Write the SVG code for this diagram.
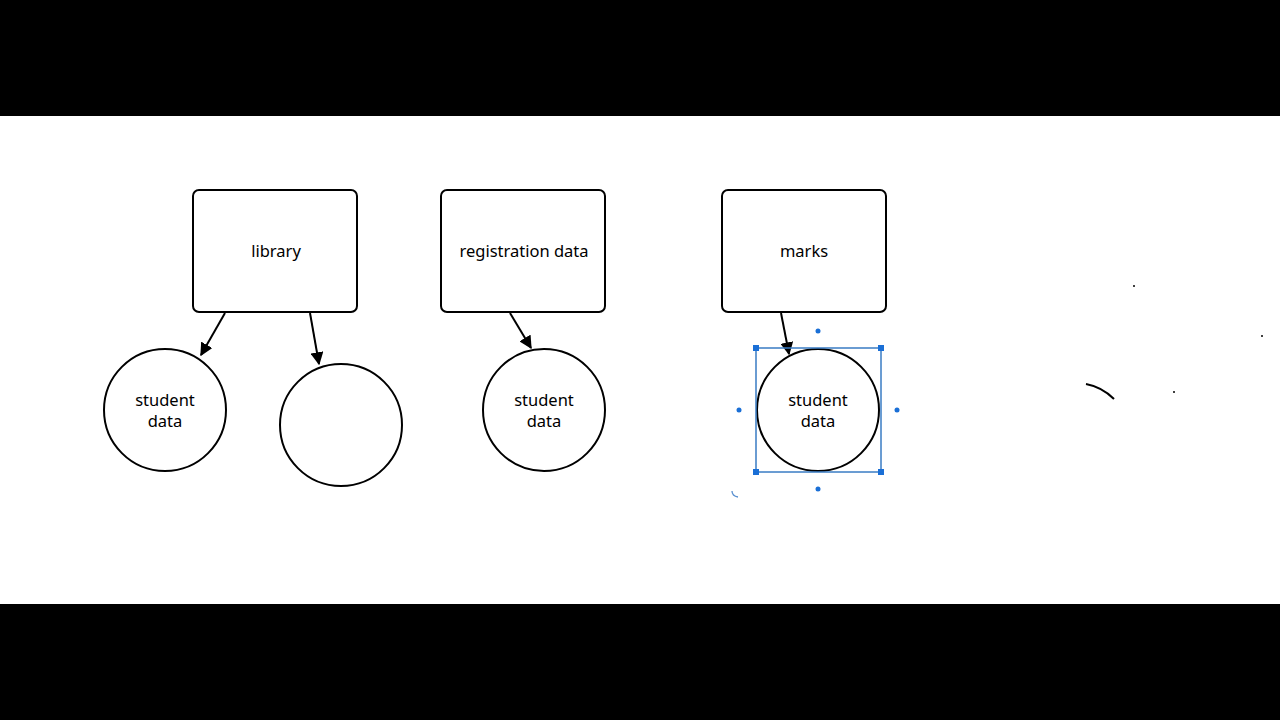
<svg xmlns="http://www.w3.org/2000/svg" width="1280" height="720" viewBox="0 0 1280 720">
<defs>
<style>
.box{fill:#fff;stroke:#000;stroke-width:2}
.circ{fill:#fff;stroke:#000;stroke-width:2}
.lbl{font-family:"Noto Sans","Open Sans",sans-serif;font-size:16.5px;fill:#000;text-anchor:middle}
.edge{stroke:#000;stroke-width:2;fill:none;marker-end:url(#arr)}
.sel{fill:none;stroke:#3a7cc4;stroke-width:1.5}
.h{fill:#1a6fd6}
</style>
<marker id="arr" viewBox="0 0 10 10" refX="9" refY="5" markerWidth="6.5" markerHeight="6.5" markerUnits="strokeWidth" orient="auto">
<path d="M0,0 L10,5 L0,10 z" fill="#000"/>
</marker>
</defs>
<rect x="0" y="0" width="1280" height="720" fill="#000"/>
<rect x="0" y="116" width="1280" height="488" fill="#fff"/>

<g id="connectors">
<line class="edge" x1="225" y1="313" x2="201" y2="355"/>
<line class="edge" x1="310" y1="313" x2="319" y2="364"/>
<line class="edge" x1="510" y1="313" x2="531" y2="348"/>
<line class="edge" x1="781" y1="313" x2="789" y2="354"/>
</g>

<g id="library">
<rect class="box" x="193" y="190" width="164" height="122" rx="6"/>
<text class="lbl" x="276" y="257">library</text>
</g>
<g id="registration">
<rect class="box" x="441" y="190" width="164" height="122" rx="6"/>
<text class="lbl" x="524" y="257">registration data</text>
</g>
<g id="marks">
<rect class="box" x="722" y="190" width="164" height="122" rx="6"/>
<text class="lbl" x="804" y="257">marks</text>
</g>

<g id="student1">
<circle class="circ" cx="165" cy="410" r="61"/>
<text class="lbl" x="165" y="406">student</text>
<text class="lbl" x="165" y="427">data</text>
</g>
<g id="empty">
<circle class="circ" cx="341" cy="425" r="61"/>
</g>
<g id="student2">
<circle class="circ" cx="544" cy="410" r="61"/>
<text class="lbl" x="544" y="406">student</text>
<text class="lbl" x="544" y="427">data</text>
</g>
<g id="student3">
<circle class="circ" cx="818" cy="410" r="61"/>
<text class="lbl" x="818" y="406">student</text>
<text class="lbl" x="818" y="427">data</text>
</g>

<g id="selection">
<rect class="sel" x="756" y="348" width="125" height="124"/>
<rect class="h" x="753" y="345" width="6" height="6"/>
<rect class="h" x="878" y="345" width="6" height="6"/>
<rect class="h" x="753" y="469" width="6" height="6"/>
<rect class="h" x="878" y="469" width="6" height="6"/>
<circle class="h" cx="818" cy="331" r="2.5"/>
<circle class="h" cx="739" cy="410" r="2.5"/>
<circle class="h" cx="897" cy="410" r="2.5"/>
<circle class="h" cx="818" cy="489" r="2.5"/>
<path d="M732,491 q0,5 6,6" stroke="#5a90d0" stroke-width="1.3" fill="none"/>
</g>

<g id="strokes">
<circle cx="1134" cy="286" r="1" fill="#000"/>
<circle cx="1262" cy="336" r="1" fill="#000"/>
<circle cx="1174" cy="392" r="1" fill="#000"/>
<path d="M1086,384 Q1102,387 1114,399" stroke="#000" stroke-width="2" fill="none"/>
</g>
</svg>
